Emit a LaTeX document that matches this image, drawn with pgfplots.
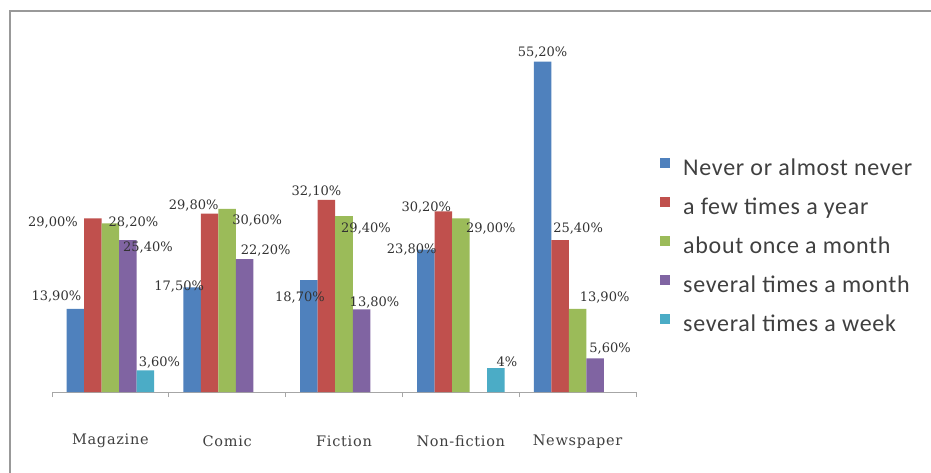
\documentclass[border=0pt]{standalone}
\usepackage{fontspec}
\setmainfont{DejaVu Serif}
\newfontfamily\legfont{Carlito}[LetterSpace=3]
\newfontfamily\lblfont{DejaVu Serif}
\newfontfamily\catfont{DejaVu Serif}[LetterSpace=5]
\usepackage{pgfplots}
\pgfplotsset{compat=1.18}
\definecolor{c1}{HTML}{4F81BD}
\definecolor{c2}{HTML}{C0504D}
\definecolor{c3}{HTML}{9BBB59}
\definecolor{c4}{HTML}{8064A2}
\definecolor{c5}{HTML}{4BACC6}
\pgfplotsset{
  labs/.style={
    nodes near coords={\pgfplotspointmeta\%},
    point meta=explicit symbolic,
    visualization depends on={value \thisrow{dx}\as\labdx},
    visualization depends on={value \thisrow{dy}\as\labdy},
    every node near coord/.append style={anchor=center, inner sep=0pt,
      xshift=\labdx bp, yshift=\labdy bp,
      font=\lblfont\fontsize{13bp}{15bp}\selectfont, text=black!80}
  }
}
\begin{document}
\begin{tikzpicture}
\fill[white] (0,0) rectangle (931bp,473bp);
\path[use as bounding box] (0,0) rectangle (931bp,473bp);
\draw[gray!80, line width=1.5bp] (10bp,0) -- (10bp,462bp) -- (931bp,462bp);
\begin{axis}[
  at={(52bp,81bp)}, anchor=south west, scale only axis,
  width=584bp, height=359bp,
  ybar=0pt, bar width=0.15,
  xmin=-0.5, xmax=4.5, ymin=0, ymax=60,
  ytick={10,20,...,60}, yticklabels={}, ytick style={draw=none},
  ymajorgrids, grid style={gray!45, line width=0.8bp},
  axis y line=none, axis x line*=bottom,
  x axis line style={gray!70, line width=0.8bp, -},
  xtick={0,...,4},
  xticklabels={Magazine,Comic,Fiction,Non-fiction,Newspaper},
  major x tick style={draw=none},
  minor xtick={-0.5,0.5,...,4.5},
  minor x tick style={gray!70, line width=0.8bp},
  minor tick length=5bp, tick align=outside,
  xticklabel style={font=\catfont\fontsize{14.5bp}{16bp}\selectfont, text=black!75,
    anchor=center, yshift=-45bp},
  clip=false,
  legend cell align=left,
  legend image code/.code={\fill[#1] (0bp,2bp) rectangle (10bp,12bp);
    \path[draw=none, fill=none] (0bp,0bp) rectangle (23bp,12bp);},
  legend style={at={(1.041,0.652)}, anchor=north west, draw=none, fill=none,
    inner sep=0pt, row sep=17.5bp,
    font=\legfont\fontsize{24bp}{26bp}\selectfont, text=black!75,
    nodes={inner sep=0pt, text height=15bp, text depth=4bp}},
]
\addplot[fill=c1, draw=none, labs] table[x=x, y=y, meta=lab] {
x y lab dx dy
0 13.9 13,90 -19 12
1 17.5 17,50 -13 1
2 18.7 18,70 -9 -17
3 23.8 23,80 -14 0
4 55.2 55,20 0 9
};
\addlegendentry{Never or almost never}
\addplot[fill=c2, draw=none, labs] table[x=x, y=y, meta=lab] {
x y lab dx dy
0 29.0 29,00 -40 -4
1 29.8 29,80 -16 8
2 32.1 32,10 -10 8
3 30.2 30,20 -17 4
4 25.4 25,40 18 11
};
\addlegendentry{a few times a year}
\addplot[fill=c3, draw=none, labs] table[x=x, y=y, meta=lab] {
x y lab dx dy
0 28.2 28,20 23 1
1 30.6 30,60 30 -12
2 29.4 29,40 22 -12
3 29.0 29,00 30 -10
4 13.9 13,90 27 11
};
\addlegendentry{about once a month}
\addplot[fill=c4, draw=none, labs] table[x=x, y=y, meta=lab] {
x y lab dx dy
0 25.4 25,40 20 -8
1 22.2 22,20 21 9
2 13.8 13,80 13 7
4 5.6 5,60 15 10
};
\addlegendentry{several times a month}
\addplot[fill=c5, draw=none, labs] table[x=x, y=y, meta=lab] {
x y lab dx dy
0 3.6 3,60 14 8
3 4 4 11 6
};
\addlegendentry{several times a week}
\end{axis}
\end{tikzpicture}
\end{document}
